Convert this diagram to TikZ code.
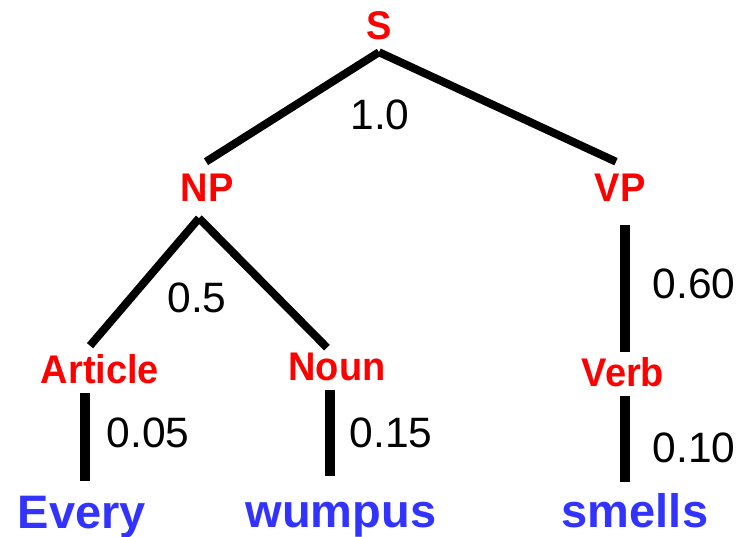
\documentclass[tikz,border=0pt]{standalone}
\usepackage{fontspec}
\setmainfont{Liberation Sans}
\newfontfamily\catfont[FakeStretch=0.95]{Liberation Sans}
\definecolor{catred}{RGB}{255,0,0}
\definecolor{wordblue}{RGB}{51,51,255}
\tikzset{
  cat/.style={anchor=base, inner sep=0pt, text=catred,
    font=\catfont\fontsize{40}{40}\selectfont\bfseries, text height=28.6pt, text depth=0pt},
  word/.style={anchor=base, inner sep=0pt, text=wordblue,
    font=\fontsize{47}{47}\selectfont\bfseries, text height=33.5pt, text depth=0pt},
  prob/.style={inner sep=0pt, font=\fontsize{42.5}{42.5}\selectfont,
    text height=30.5pt, text depth=0pt},
  branch/.style={line width=8pt, black},
  stem/.style={line width=10pt, black}
}
\begin{document}
\begin{tikzpicture}[x=1pt, y=-1pt]
\useasboundingbox (0,0) rectangle (739,537);

% categories
\node[cat] (S) at (379,40) {S};
\node[cat] (NP) at (207,202) {NP};
\node[cat] (VP) at (620,202) {VP};
\node[cat] (Art) at (100,383) {Article};
\node[cat] (Noun) at (337,380) {Noun};
\node[cat] (Verb) at (623,386) {Verb};

% words
\node[word] (Every) at (82,528) {Every};
\node[word] (wumpus) at (341,527) {wumpus};
\node[word] (smells) at (635,527) {smells};

% rule probabilities
\node[prob] (pS) at (380,114) {1.0};
\node[prob] (pNP) at (197,297) {0.5};
\node[prob] (pArt) at (148,432) {0.05};
\node[prob] (pNoun) at (391,432) {0.15};
\node[prob] (pVP) at (694,283) {0.60};
\node[prob] (pVerb) at (694,447) {0.10};

% branches
\draw[branch] ([yshift=-12pt]S.south) -- ([xshift=-1pt,yshift=11.5pt]NP.north);
\draw[branch] ([yshift=-12pt]S.south) -- ([xshift=-4pt,yshift=11.5pt]VP.north);
\draw[branch] ([xshift=-8pt,yshift=-16pt]NP.south) -- ([xshift=-10pt,yshift=8.5pt]Art.north);
\draw[branch] ([xshift=-8pt,yshift=-16pt]NP.south) -- ([xshift=-10pt,yshift=3.5pt]Noun.north);
\draw[stem] ([xshift=5pt,yshift=-23pt]VP.south) -- ([xshift=2pt,yshift=5.5pt]Verb.north);
\draw[stem] ([xshift=-15pt,yshift=-10pt]Art.south) -- ([xshift=3pt,yshift=13pt]Every.north);
\draw[stem] ([xshift=-7pt,yshift=-10pt]Noun.south) -- ([xshift=-11pt,yshift=17pt]wumpus.north);
\draw[stem] ([xshift=2pt,yshift=-10pt]Verb.south) -- ([xshift=-10pt,yshift=11pt]smells.north);
\end{tikzpicture}
\end{document}
